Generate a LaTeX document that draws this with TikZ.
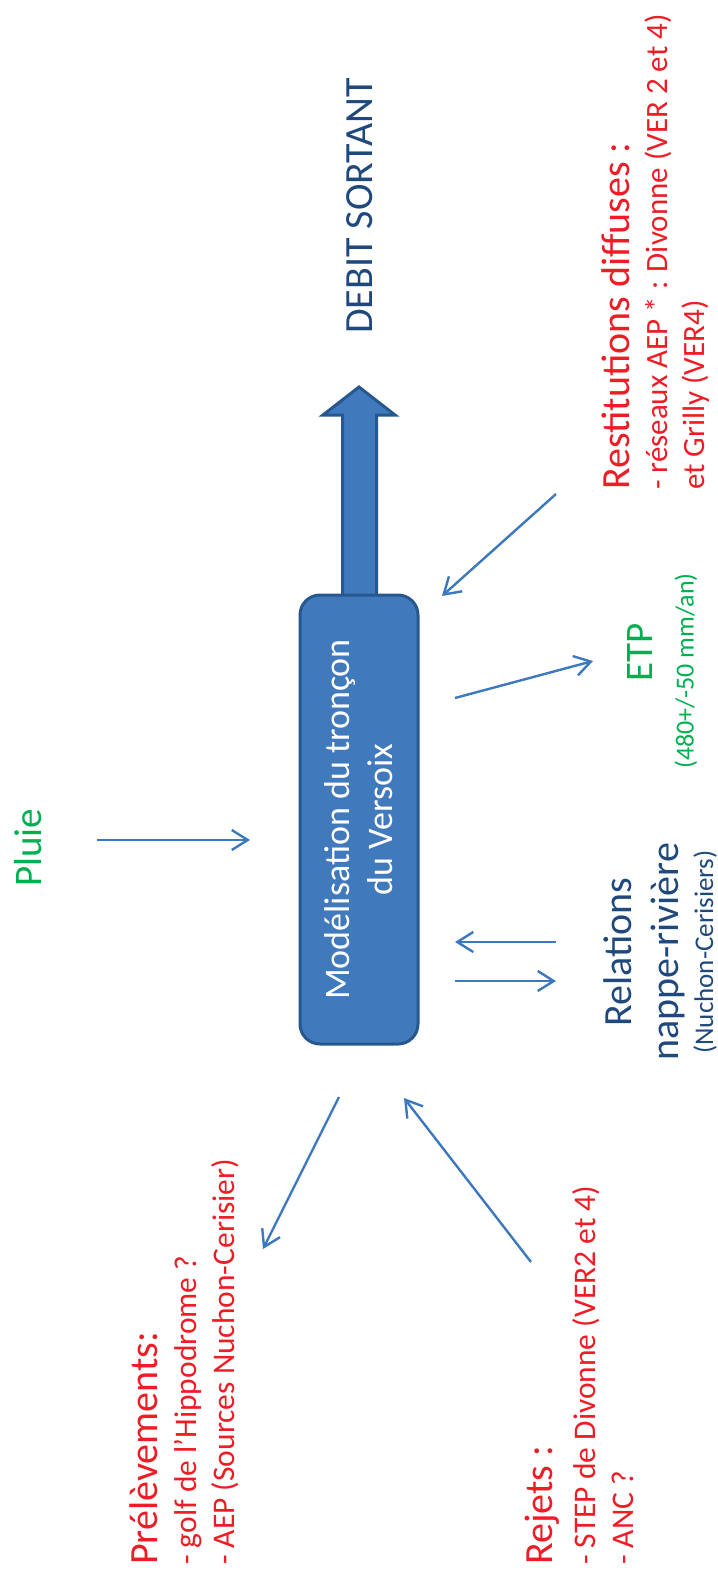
\documentclass[tikz,border=0pt]{standalone}
\usepackage{fontspec}
\setmainfont{Carlito}
\usetikzlibrary{arrows.meta,backgrounds}

\definecolor{flowblue}{HTML}{3C78BE}
\definecolor{boxfill}{HTML}{4179BD}
\definecolor{boxline}{HTML}{26578F}
\definecolor{navy}{HTML}{1F497D}
\definecolor{leafgreen}{HTML}{00B050}
\definecolor{alertred}{RGB}{238,28,36}

\tikzset{
  flow/.style={draw=flowblue, line width=2.4pt,
    -{Straight Barb[length=16pt,width=20pt]}},
  vlabel/.style={rotate=90, inner sep=0pt},
  modelbox/.style={rotate=90, draw=boxline, fill=boxfill, line width=3pt,
    rounded corners=20pt, text=white, align=center,
    font=\fontsize{36}{43}\selectfont},
  fatarrow/.style={draw=boxline, fill=boxfill, line width=3pt, line join=miter},
  redlist/.style={vlabel, text=alertred, align=left, anchor=north west},
}

\newcommand{\titlesize}{\fontsize{40}{48}\selectfont}
\newcommand{\itemsize}{\fontsize{31.5}{38}\selectfont}

\begin{document}
\begin{tikzpicture}[x=1pt,y=-1pt]
\useasboundingbox (0,0) rectangle (717,1578);

% central model block
\node[modelbox, minimum width=449pt, minimum height=118pt] (model) at (359,819.5)
  {Modélisation du tronçon\\du Versoix};

% outgoing discharge (thick arrow behind the block)
\begin{scope}[on background layer]
  \draw[fatarrow] (342.5,640) -- (342.5,415) -- (323,415) -- (359,387)
    -- (395,415) -- (376.5,415) -- (376.5,640) -- cycle;
\end{scope}

% labels
\node[vlabel, text=navy, font=\fontsize{40}{48}\selectfont] (debit) at (360,206) {DEBIT SORTANT};
\node[vlabel, text=leafgreen, font=\fontsize{39}{47}\selectfont] (pluie) at (28,848) {Pluie};
\node[vlabel, text=leafgreen, font=\fontsize{39}{47}\selectfont] (etp) at (640,652) {ETP};
\node[vlabel, text=leafgreen, font=\fontsize{26}{31}\selectfont] (etpval) at (686,671) {(480+/-50 mm/an)};

\node[vlabel, text=navy, align=center, font=\fontsize{40}{47}\selectfont] (nappe) at (660,952)
  {Relations\\
   nappe-rivière\\[-12pt]
   \fontsize{27}{32}\selectfont (Nuchon-Cerisiers)};

\node[redlist, font=\fontsize{40}{37.5}\selectfont] (restit) at (602,490)
  {\titlesize Restitutions diffuses :\\
   \fontsize{31}{37}\selectfont - réseaux AEP * : Divonne (VER 2 et 4)\\
   \fontsize{31}{37}\selectfont et Grilly (VER4)};

\node[redlist, font=\fontsize{40}{38.5}\selectfont] (prel) at (130,1565)
  {\titlesize Prélèvements:\\
   \itemsize - golf de l’Hippodrome ?\\
   \itemsize - AEP (Sources Nuchon-Cerisier)};

\node[redlist, font=\fontsize{40}{38.5}\selectfont] (rejets) at (525,1565)
  {\titlesize Rejets :\\[4pt]
   \itemsize - STEP de Divonne (VER2 et 4)\\
   \itemsize - ANC ?};

% flow end points
\coordinate (pluieA) at (97,840);   \coordinate (pluieB) at (250,840);
\coordinate (restA) at (556,494);   \coordinate (restB) at (442,596);
\coordinate (etpA) at (455,698);    \coordinate (etpB) at (593,661);
\coordinate (inA) at (556,942);     \coordinate (inB) at (455,942);
\coordinate (outA) at (455,981);    \coordinate (outB) at (556,981);
\coordinate (prelA) at (339,1097);  \coordinate (prelB) at (263,1249);
\coordinate (rejA) at (531,1262);   \coordinate (rejB) at (404,1098);

% flows
\draw[flow] (pluieA) -- (pluieB);
\draw[flow] (restA) -- (restB);
\draw[flow] (etpA) -- (etpB);
\draw[flow] (inA) -- (inB);
\draw[flow] (outA) -- (outB);
\draw[flow] (prelA) -- (prelB);
\draw[flow] (rejA) -- (rejB);
\end{tikzpicture}
\end{document}
